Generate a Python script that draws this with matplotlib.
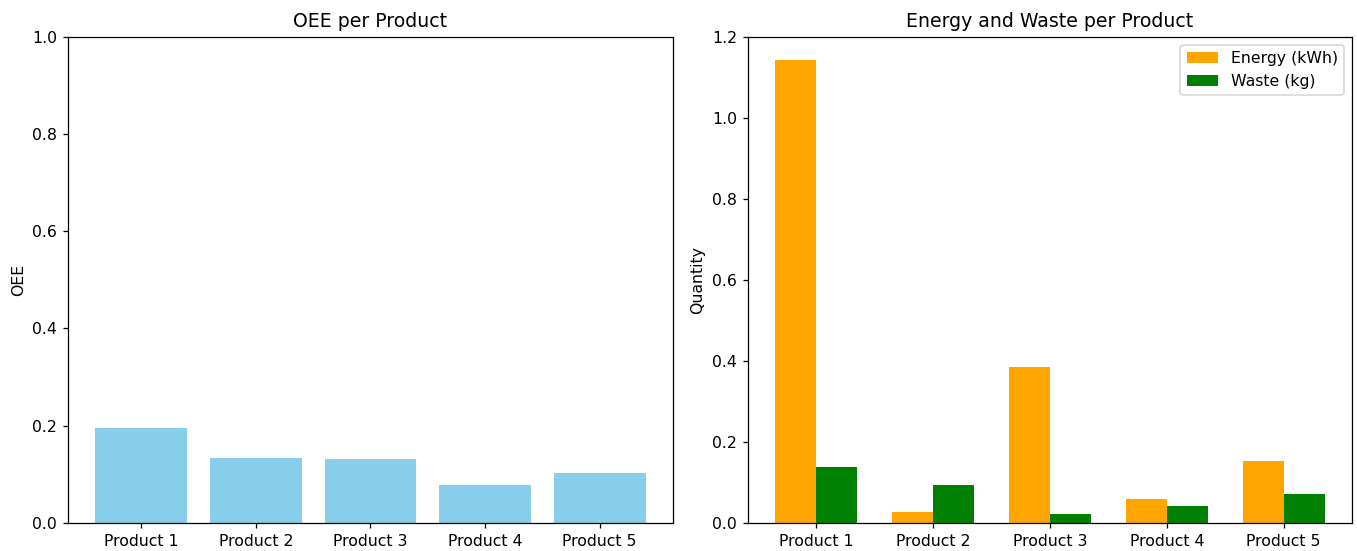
import numpy as np
import matplotlib
matplotlib.use('Agg')
import matplotlib.pyplot as plt

products = ['Product 1', 'Product 2', 'Product 3', 'Product 4', 'Product 5']
oee = [0.194, 0.133, 0.131, 0.078, 0.102]
energy = [1.144, 0.026, 0.384, 0.058, 0.153]
waste = [0.138, 0.093, 0.021, 0.041, 0.070]

fig = plt.figure(figsize=(1357 / 113.1, 551 / 113.1), dpi=113.1)
ax1 = fig.add_axes([68 / 1357, 28.3 / 551, 605 / 1357, 486 / 551])
ax2 = fig.add_axes([748 / 1357, 28.3 / 551, 604 / 1357, 486 / 551])

# OEE per product
ax1.bar(products, oee, color='skyblue')
ax1.set_ylim(0, 1)
ax1.set_ylabel('OEE')
ax1.set_title('OEE per Product')

# energy and waste side by side
x = np.arange(len(products))
w = 0.35
ax2.bar(x - w / 2, energy, w, color='orange', label='Energy (kWh)')
ax2.bar(x + w / 2, waste, w, color='green', label='Waste (kg)')
ax2.set_xticks(x)
ax2.set_xticklabels(products)
ax2.set_ylabel('Quantity')
ax2.set_title('Energy and Waste per Product')
ax2.legend(loc='upper right')

plt.savefig('out.png', dpi=113.1)
